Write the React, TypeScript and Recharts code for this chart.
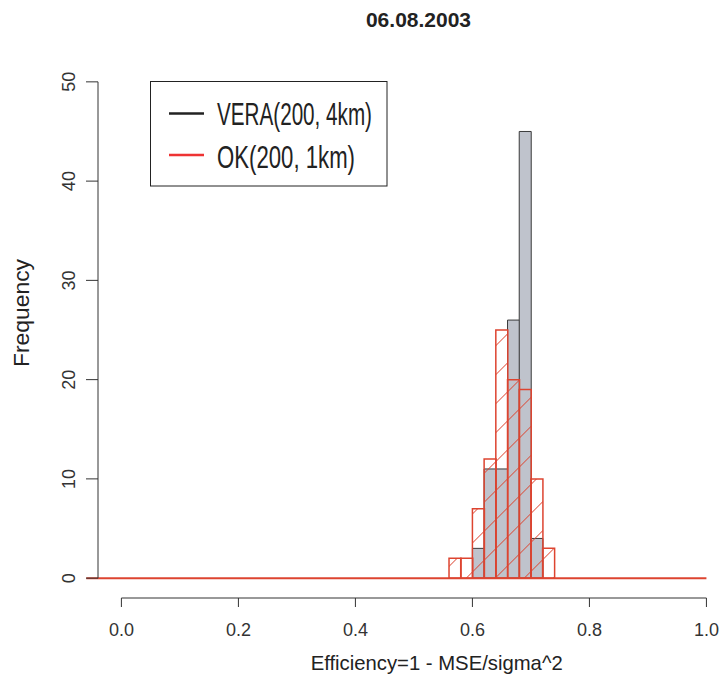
import React from 'react';
import { ComposedChart, Bar, XAxis, YAxis, ReferenceLine } from 'recharts';

// histogram bins (width 0.02), given by their mid points
const binMids = [0.57, 0.59, 0.61, 0.63, 0.65, 0.67, 0.69, 0.71, 0.73];
const veraCounts = [0, 0, 3, 11, 11, 26, 45, 4, 0];
const okCounts = [2, 2, 7, 12, 25, 20, 19, 10, 3];
// the red histogram's breaks run over this whole range, empty bins show as a line
const okBreakRange = [-0.06, 1.0];

const xTicks = [0, 0.2, 0.4, 0.6, 0.8, 1.0];
const yTicks = [0, 10, 20, 30, 40, 50];
const xDomain = [-0.04, 1.0232];
const yDomain = [-2, 52];

const title = '06.08.2003';
const xLabel = 'Efficiency=1 - MSE/sigma^2';
const yLabel = 'Frequency';
const legendItems = [
  { name: 'VERA(200, 4km)', color: '#222222', textWidth: 155 },
  { name: 'OK(200, 1km)', color: '#ee3333', textWidth: 138 },
];

const data = binMids.map((x, i) => ({ x, vera: veraCounts[i], ok: okCounts[i] }));

const FONT = '"Liberation Sans", Arial, Helvetica, sans-serif';
const RED = '#dd4430';
const INK = '#333333';

const YTick = (props: any) => {
  const { x, y, payload } = props;
  const cx = x - 3;
  return (
    <text
      x={cx}
      y={y}
      transform={`rotate(-90, ${cx}, ${y})`}
      textAnchor="middle"
      dominantBaseline="central"
      fontSize={18}
      fontFamily={FONT}
      fill={INK}
    >
      {payload.value}
    </text>
  );
};

const fmtX = (v: number) => v.toFixed(1);

export default function App() {
  return (
    <div style={{ position: 'absolute', left: 0, top: 0, width: 720, height: 680, background: '#fff' }}>
      <ComposedChart
        width={720}
        height={680}
        data={data}
        margin={{ top: 62, right: 0, bottom: 42, left: 38 }}
        barCategoryGap={0}
        barGap={0}
      >
        <XAxis
          dataKey="x"
          type="number"
          domain={xDomain}
          allowDataOverflow
          ticks={xTicks}
          interval={0}
          tickFormatter={fmtX}
          axisLine={false}
          tickLine={{ stroke: INK, strokeWidth: 1 }}
          tickSize={9}
          tickMargin={16}
          height={40}
          tick={{ fontSize: 18, fontFamily: FONT, fill: INK }}
        />
        <XAxis
          xAxisId="ok"
          dataKey="x"
          type="number"
          domain={xDomain}
          allowDataOverflow
          hide
        />
        <YAxis
          type="number"
          domain={yDomain}
          allowDataOverflow
          ticks={yTicks}
          interval={0}
          axisLine={false}
          tickLine={{ stroke: INK, strokeWidth: 1 }}
          tickSize={12}
          tickMargin={14}
          width={60}
          tick={<YTick />}
        />
        <Bar
          dataKey="vera"
          fill="#bfc3cc"
          stroke="#3a3a3a"
          strokeWidth={1}
          isAnimationActive={false}
        />
        <Bar
          dataKey="ok"
          xAxisId="ok"
          fill="url(#okHatch)"
          stroke={RED}
          strokeWidth={1.5}
          isAnimationActive={false}
        />
        <ReferenceLine
          segment={[
            { x: okBreakRange[0], y: 0 },
            { x: okBreakRange[1], y: 0 },
          ]}
          stroke={RED}
          strokeWidth={2}
          ifOverflow="visible"
        />
        <ReferenceLine
          segment={[
            { x: xTicks[0], y: yDomain[0] },
            { x: xTicks[xTicks.length - 1], y: yDomain[0] },
          ]}
          stroke={INK}
          strokeWidth={1}
          ifOverflow="visible"
        />
        <ReferenceLine
          segment={[
            { x: xDomain[0], y: yTicks[0] },
            { x: xDomain[0], y: yTicks[yTicks.length - 1] },
          ]}
          stroke={INK}
          strokeWidth={1}
          ifOverflow="visible"
        />
      </ComposedChart>

      <svg
        width={720}
        height={680}
        style={{ position: 'absolute', left: 0, top: 0, pointerEvents: 'none' }}
      >
        <defs>
          <pattern
            id="okHatch"
            patternUnits="userSpaceOnUse"
            width={20.5}
            height={20.5}
            patternTransform="rotate(45)"
          >
            <line x1={0} y1={0} x2={0} y2={20.5} stroke={RED} strokeWidth={1.6} />
          </pattern>
        </defs>
        <text
          x={418.5}
          y={26.5}
          textAnchor="middle"
          fontSize={21}
          fontWeight="bold"
          fontFamily={FONT}
          fill="#222"
        >
          {title}
        </text>
        <text
          x={436.7}
          y={670}
          textAnchor="middle"
          fontSize={21}
          fontFamily={FONT}
          fill="#222"
          textLength={252}
          lengthAdjust="spacingAndGlyphs"
        >
          {xLabel}
        </text>
        <text
          x={29}
          y={313}
          transform="rotate(-90, 29, 313)"
          textAnchor="middle"
          fontSize={22}
          fontFamily={FONT}
          fill="#222"
          textLength={108}
          lengthAdjust="spacingAndGlyphs"
        >
          {yLabel}
        </text>
        <rect x={150.5} y={81.5} width={236.5} height={104.5} fill="#fff" stroke="#222" strokeWidth={1} />
        {legendItems.map((item, i) => (
          <g key={item.name}>
            <line
              x1={169}
              x2={204}
              y1={113.5 + i * 41.5}
              y2={113.5 + i * 41.5}
              stroke={item.color}
              strokeWidth={2.5}
            />
            <text
              x={217}
              y={125 + i * 43}
              fontSize={32}
              fontFamily={FONT}
              fill="#222"
              textLength={item.textWidth}
              lengthAdjust="spacingAndGlyphs"
            >
              {item.name}
            </text>
          </g>
        ))}
      </svg>
    </div>
  );
}
